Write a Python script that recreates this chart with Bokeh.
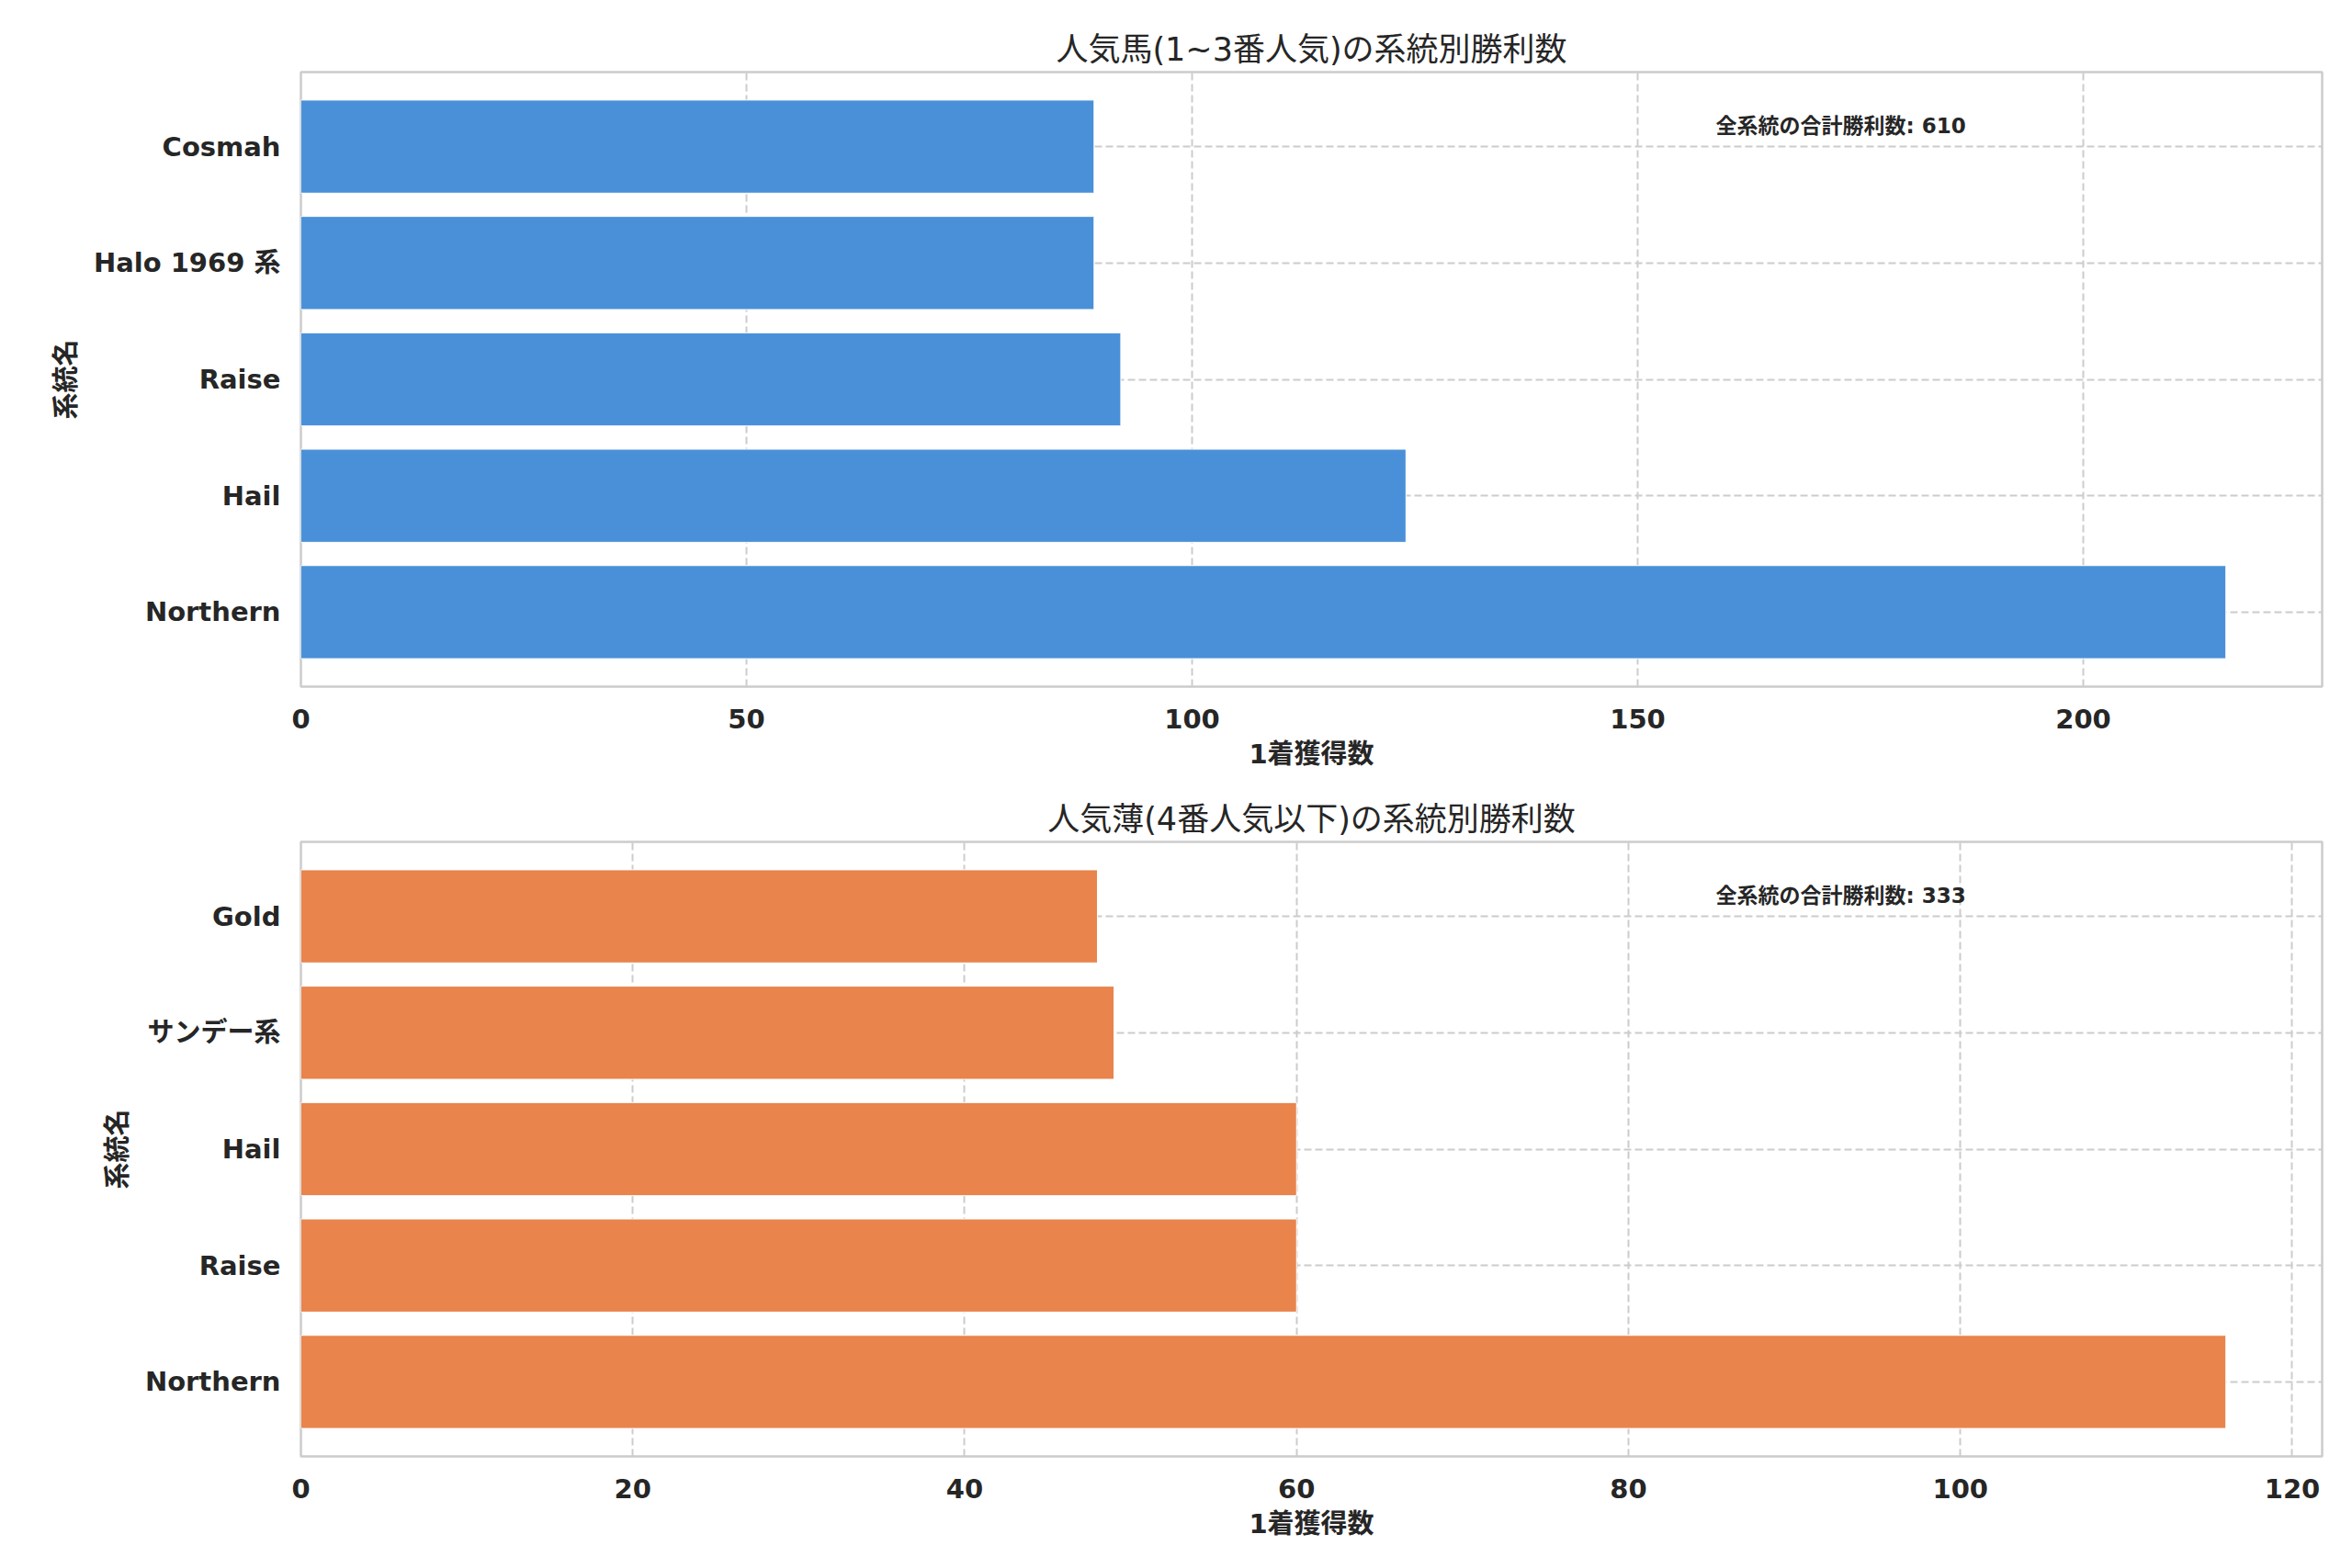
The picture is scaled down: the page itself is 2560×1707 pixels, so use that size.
from bokeh.plotting import figure
from bokeh.layouts import column
from bokeh.models import ColumnDataSource, FactorRange, Range1d, SingleIntervalTicker, Label
from bokeh.embed import file_html
from bokeh.resources import INLINE

# data (bottom -> top, as drawn)
top_names = ["Northern", "Hail", "Raise", "Halo 1969 系", "Cosmah"]
top_wins = [216, 124, 92, 89, 89]
top_total = 610

low_names = ["Northern", "Raise", "Hail", "サンデー系", "Gold"]
low_wins = [116, 60, 60, 49, 48]
low_total = 333

titles = ["人気馬(1~3番人気)の系統別勝利数", "人気薄(4番人気以下)の系統別勝利数"]
x_label = "1着獲得数"
y_label = "系統名"
note_label = "全系統の合計勝利数"

FONT = "DejaVu Sans, Noto Sans CJK JP"
TXT = "#262626"
PAD = 0.14  # category padding on each side


def make_panel(names, wins, total, title, color, interval, height, top):
    src = ColumnDataSource(dict(name=names, wins=wins))
    xmax = max(wins) * 1.05
    p = figure(width=2546, height=height, output_backend="svg", toolbar_location=None,
               y_range=FactorRange(factors=names, range_padding=PAD, range_padding_units="absolute"),
               x_range=Range1d(0, xmax),
               min_border_left=327, min_border_right=19, min_border_top=top,
               min_border_bottom=height - top - 670)
    p.hbar(y="name", right="wins", left=0, height=0.8, source=src,
           fill_color=color, line_color="white", line_width=1)

    p.title.text = title
    p.title.align = "center"
    p.title.text_font = FONT
    p.title.text_font_size = "35px"
    p.title.text_font_style = "normal"
    p.title.text_color = TXT
    p.title.standoff = 10

    p.outline_line_color = "#cccccc"
    p.outline_line_width = 2.5
    p.xaxis.ticker = SingleIntervalTicker(interval=interval, num_minor_ticks=0)
    for ax in (p.xaxis, p.yaxis):
        ax.axis_line_color = None
        ax.major_tick_line_color = None
        ax.minor_tick_line_color = None
        ax.major_label_text_font = FONT
        ax.major_label_text_font_size = "29px"
        ax.major_label_text_font_style = "bold"
        ax.major_label_text_color = TXT
        ax.axis_label_text_font = FONT
        ax.axis_label_text_font_size = "29px"
        ax.axis_label_text_font_style = "bold"
        ax.axis_label_text_color = TXT
    p.xaxis.axis_label = x_label
    p.yaxis.axis_label = y_label
    p.xaxis.major_label_standoff = 18
    p.xaxis.axis_label_standoff = 8
    p.yaxis.major_label_standoff = 16
    p.yaxis.axis_label_standoff = 10

    for g in (p.xgrid, p.ygrid):
        g.grid_line_color = "#cccccc"
        g.grid_line_width = 2
        g.grid_line_dash = "8 4"

    # note near the top right of the frame
    n = len(names)
    p.add_layout(Label(x=xmax * 0.7, y=n + PAD - 0.465, text=f"{note_label}: {total}",
                       text_font=FONT, text_font_size="23px", text_font_style="bold",
                       text_color=TXT, text_baseline="middle", text_align="left"))
    return p


p1 = make_panel(top_names, top_wins, top_total, titles[0], "#4a90d9", 50, 840, 78)
p2 = make_panel(low_names, low_wins, low_total, titles[1], "#e8844c", 20, 838, 76)

layout = column(p1, p2, spacing=0)
open("out.html", "w").write(file_html(layout, INLINE))
